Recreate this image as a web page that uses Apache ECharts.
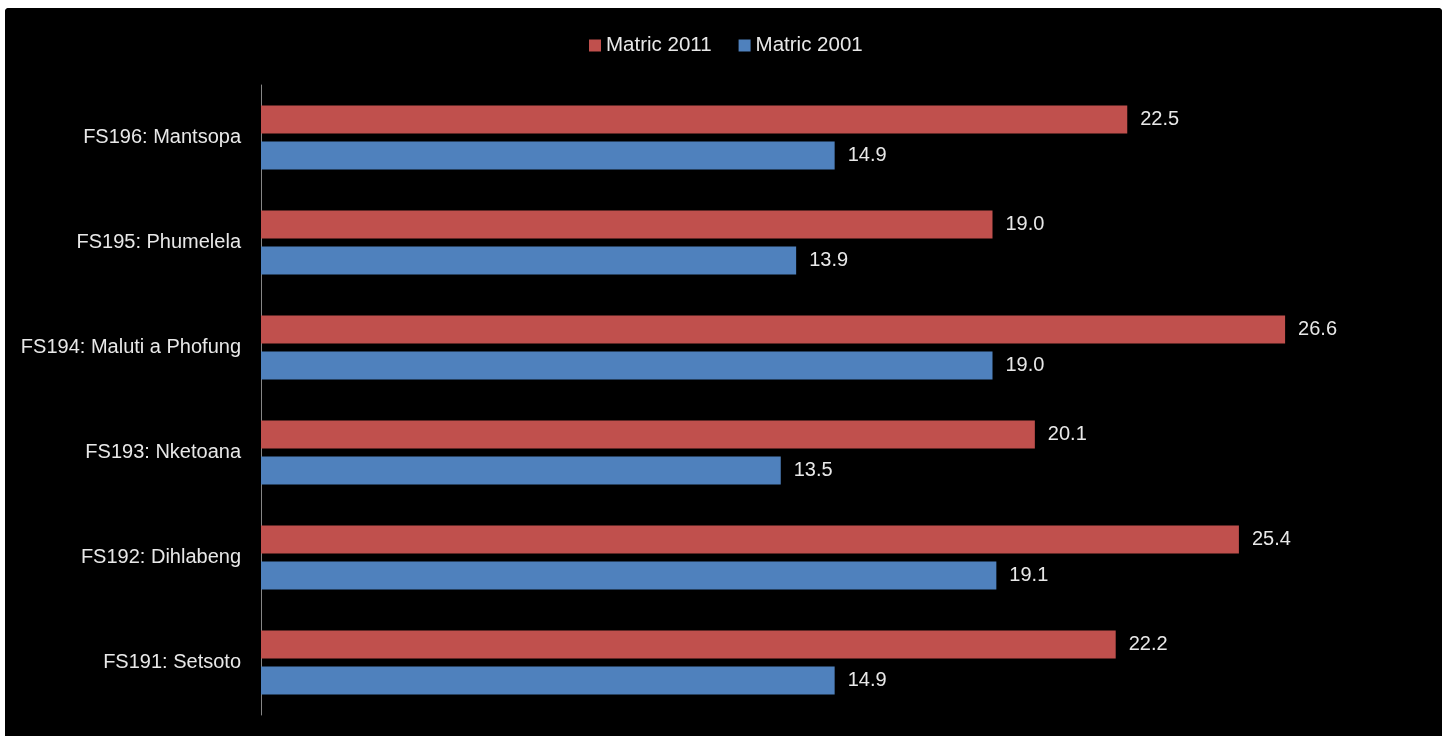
<!DOCTYPE html>
<html>
<head>
<meta charset="utf-8">
<script src="https://cdn.jsdelivr.net/npm/echarts@6/dist/echarts.min.js"></script>
<style>
  html, body { margin: 0; padding: 0; background: #ffffff; width: 1448px; height: 736px; overflow: hidden; }
  #chart { position: absolute; left: 5px; top: 8px; width: 1437px; height: 728px; border-radius: 4px 4px 0 0; overflow: hidden; background: #000; }
</style>
</head>
<body>
<div id="chart"></div>
<script>
// Municipalities, listed top to bottom
const municipalities = [
  'FS196: Mantsopa',
  'FS195: Phumelela',
  'FS194: Maluti a Phofung',
  'FS193: Nketoana',
  'FS192: Dihlabeng',
  'FS191: Setsoto'
];
// Share with matric (%) per municipality
const matric2011 = [22.5, 19.0, 26.6, 20.1, 25.4, 22.2];
const matric2001 = [14.9, 13.9, 19.0, 13.5, 19.1, 14.9];

const seriesNames = ['Matric 2011', 'Matric 2001'];
const seriesColors = ['#C0504D', '#4F81BD'];

const fontFamily = '"Liberation Sans", Arial, sans-serif';
const textColor = '#e8e8e8';

const chart = echarts.init(document.getElementById('chart'), null, { renderer: 'canvas' });

function barSeries(name, values, color) {
  return {
    name: name,
    type: 'bar',
    data: values,
    itemStyle: { color: color },
    barGap: '28%',
    barCategoryGap: '39%',
    label: {
      show: true,
      position: 'right',
      distance: 13,
      color: textColor,
      fontFamily: fontFamily,
      fontSize: 20,
      formatter: p => p.value.toFixed(1)
    }
  };
}

chart.setOption({
  backgroundColor: '#000000',
  animation: false,
  legend: {
    top: 22,
    left: 579,
    itemWidth: 12,
    itemHeight: 12,
    itemGap: 27,
    icon: 'rect',
    textStyle: { color: textColor, fontFamily: fontFamily, fontSize: 20.5 },
    data: seriesNames
  },
  grid: { left: 256, right: 26, top: 77, bottom: 21, containLabel: false },
  xAxis: {
    type: 'value',
    min: 0,
    max: 30,
    show: false
  },
  yAxis: {
    type: 'category',
    inverse: true,
    data: municipalities,
    axisLine: { show: true, lineStyle: { color: '#868686', width: 1 } },
    axisTick: { show: false },
    axisLabel: { color: textColor, fontFamily: fontFamily, fontSize: 20, margin: 20 }
  },
  series: [
    barSeries(seriesNames[0], matric2011, seriesColors[0]),
    barSeries(seriesNames[1], matric2001, seriesColors[1])
  ]
});
</script>
</body>
</html>
